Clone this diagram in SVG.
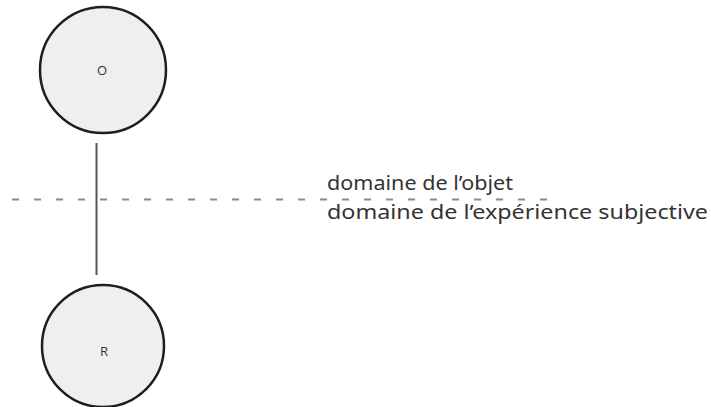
<svg xmlns="http://www.w3.org/2000/svg" width="711" height="407" viewBox="0 0 711 407">
<style>
.node{fill:#efefef;stroke:#1e1e1e;stroke-width:2.5}
.lbl{font-family:"Open Sans","Liberation Sans",sans-serif;font-size:13px;fill:#333;text-anchor:middle}
.dom{font-family:"Noto Sans","Liberation Sans",sans-serif;font-size:20px;fill:#333}
</style>
<rect width="711" height="407" fill="#ffffff"/>
<g id="connectors">
<line x1="96.5" y1="143" x2="96.5" y2="275" stroke="#555" stroke-width="2"/>
<line x1="12" y1="199.5" x2="550" y2="199.5" stroke="#8a8a8a" stroke-width="2" stroke-dasharray="7 15"/>
</g>
<g id="node-O">
<circle class="node" cx="103" cy="70" r="63"/>
<text class="lbl" x="102" y="75">O</text>
</g>
<g id="node-R">
<circle class="node" cx="103" cy="346" r="61"/>
<text class="lbl" x="104" y="356">R</text>
</g>
<g id="domain-labels">
<text class="dom" x="327" y="190" textLength="186" lengthAdjust="spacingAndGlyphs">domaine de l’objet</text>
<text class="dom" x="327" y="219" textLength="381" lengthAdjust="spacingAndGlyphs">domaine de l’expérience subjective</text>
</g>
</svg>
